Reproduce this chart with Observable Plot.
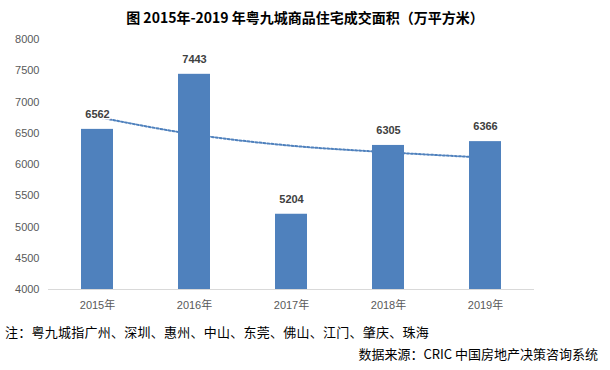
<!DOCTYPE html>
<html>
<head>
<meta charset="utf-8">
<script src="https://cdn.jsdelivr.net/npm/d3@7"></script>
<script src="https://cdn.jsdelivr.net/npm/@observablehq/plot@0.6"></script>
<style>
  html, body { margin: 0; padding: 0; background: #fff; }
  body { position: relative; width: 610px; height: 370px; overflow: hidden; font-family: "Noto Sans CJK SC", sans-serif; }
  #title { position: absolute; left: 0; top: 0; width: 610px; height: 34px; line-height: 34px; text-align: center; font-weight: bold; font-size: 14px; color: #000; }
  #chart { position: absolute; left: 0; top: 32px; }
  #note { position: absolute; left: 5px; top: 322px; height: 20px; line-height: 20px; font-size: 13px; color: #000; white-space: nowrap; letter-spacing: 0.25px; }
  #source { position: absolute; right: 12px; top: 344px; height: 20px; line-height: 20px; font-size: 13px; color: #000; white-space: nowrap; }
</style>
</head>
<body>
<div id="title">图 2015年-2019 年粤九城商品住宅成交面积（万平方米）</div>
<div id="chart"></div>
<div id="note">注：粤九城指广州、深圳、惠州、中山、东莞、佛山、江门、肇庆、珠海</div>
<div id="source">数据来源：CRIC 中国房地产决策咨询系统</div>
<script>
const years = ["2015年", "2016年", "2017年", "2018年", "2019年"];
const areas = [6562, 7443, 5204, 6305, 6366];
// dotted trend line at each category
const trend = [6760, 6480, 6300, 6195, 6110];
const yDomain = [4000, 8000];
const yTicks = [4000, 4500, 5000, 5500, 6000, 6500, 7000, 7500, 8000];

const bars = years.map((y, i) => ({year: y, value: areas[i]}));
const trendData = years.map((y, i) => ({year: y, value: trend[i]}));

const chart = Plot.plot({
  width: 610,
  height: 285,
  marginTop: 7,
  marginBottom: 28,
  marginLeft: 48,
  marginRight: 76,
  style: {fontFamily: "'Liberation Sans', 'Noto Sans CJK SC', sans-serif", fontSize: "11px", color: "#595959", background: "#fff"},
  x: {domain: years, paddingInner: 0.67, paddingOuter: 0.335, tickSize: 0, tickPadding: 12, label: null},
  y: {domain: yDomain, ticks: yTicks, tickFormat: d => String(d), tickSize: 0, tickPadding: 9, label: null},
  marks: [
    Plot.line(trendData, {x: "year", y: "value", stroke: "#4f81bd", strokeWidth: 2, strokeDasharray: "2 2", curve: "monotone-x"}),
    Plot.barY(bars, {x: "year", y1: yDomain[0], y2: "value", fill: "#4f81bd"}),
    Plot.ruleY([yDomain[0]], {stroke: "#d9d9d9", strokeWidth: 1}),
    Plot.text(bars, {x: "year", y: "value", text: d => String(d.value), dy: -15, fill: "#404040", fontWeight: "bold", fontSize: 11, stroke: "white", strokeWidth: 3})
  ]
});
document.getElementById("chart").appendChild(chart);
</script>
</body>
</html>
